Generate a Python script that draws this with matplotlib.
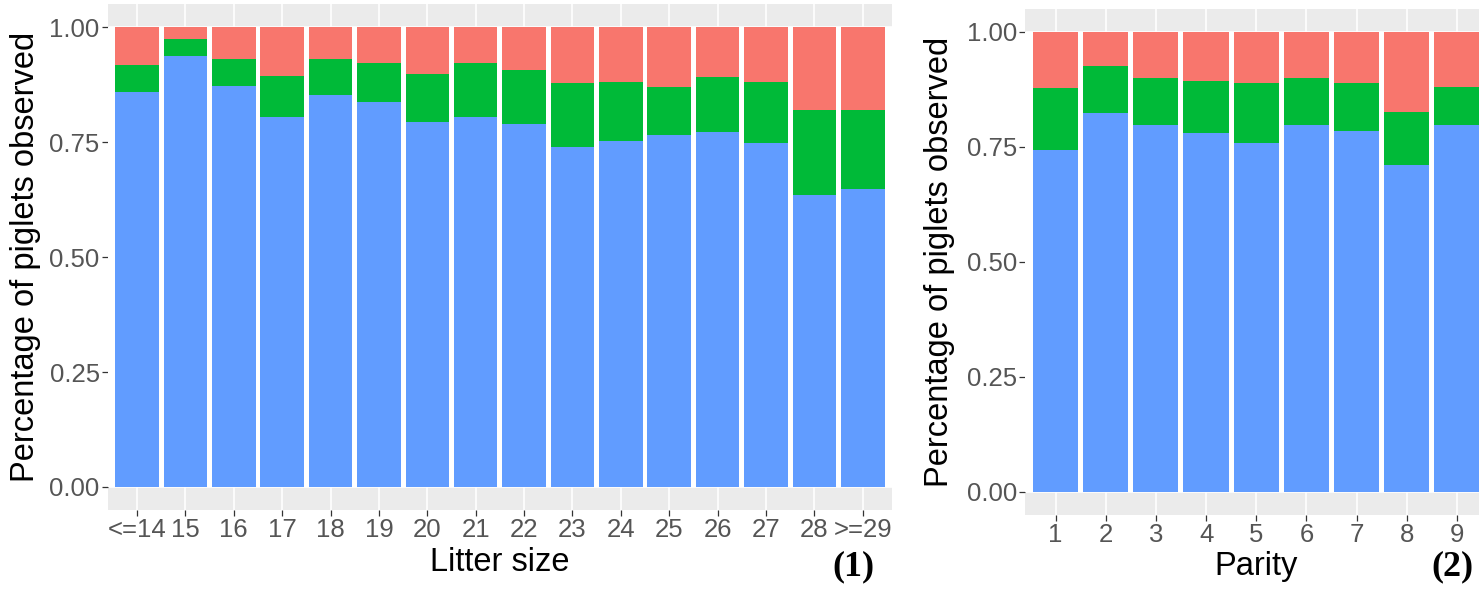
'''
Piglets observed by litter size (1) and parity (2), stacked proportions
'''

import matplotlib.pyplot as plt
import numpy as np

plt.rcParams['font.family'] = ['Liberation Sans', 'DejaVu Sans']

# litter size panel
LITTER_LABELS = ['<=14', '15', '16', '17', '18', '19', '20', '21',
                 '22', '23', '24', '25', '26', '27', '28', '>=29']
LITTER_BLUE = [0.859, 0.938, 0.871, 0.804, 0.853, 0.837, 0.793, 0.804,
               0.790, 0.739, 0.752, 0.765, 0.772, 0.747, 0.636, 0.649]
LITTER_GREEN_TOP = [0.918, 0.975, 0.931, 0.893, 0.931, 0.922, 0.899, 0.922,
                    0.907, 0.878, 0.880, 0.870, 0.891, 0.880, 0.819, 0.819]

# parity panel
PARITY_LABELS = ['1', '2', '3', '4', '5', '6', '7', '8', '9']
PARITY_BLUE = [0.743, 0.824, 0.797, 0.781, 0.759, 0.797, 0.785, 0.710, 0.797]
PARITY_GREEN_TOP = [0.879, 0.926, 0.899, 0.894, 0.888, 0.899, 0.889, 0.826, 0.881]

Y_TICKS = [0.0, 0.25, 0.5, 0.75, 1.0]
Y_TICK_LABELS = ['0.00', '0.25', '0.50', '0.75', '1.00']

BLUE = '#619CFF'
GREEN = '#00BA38'
RED = '#F8766D'
PANEL_BG = '#EBEBEB'
TICK_COLOUR = '#555555'
TICK_SIZE = 18.5
TITLE_SIZE = 23.5
Y_TITLE = 'Percentage of piglets observed'


def draw_panel(ax, labels, blue, green_top, xlabel, ylabel_x):
    x = np.arange(len(labels))
    blue = np.array(blue)
    green_top = np.array(green_top)
    ax.set_facecolor(PANEL_BG)
    ax.axhspan(0, 1, color='white', zorder=1, lw=0)
    ax.bar(x, blue, 0.9, color=BLUE, zorder=2)
    ax.bar(x, green_top - blue, 0.9, bottom=blue, color=GREEN, zorder=2)
    ax.bar(x, 1 - green_top, 0.9, bottom=green_top, color=RED, zorder=2)
    ax.set_xlim(-0.6, len(labels) - 0.4)
    ax.set_ylim(-0.05, 1.05)
    ax.set_xticks(x)
    ax.set_xticklabels(labels)
    ax.set_yticks(Y_TICKS)
    ax.set_yticklabels(Y_TICK_LABELS)
    ax.set_yticks([0.125, 0.375, 0.625, 0.875], minor=True)
    ax.grid(True, which='major', color='white', lw=1.2, zorder=0)
    ax.grid(True, which='minor', axis='y', color='white', lw=0.6, zorder=0)
    ax.set_axisbelow(True)
    for s in ax.spines.values():
        s.set_visible(False)
    ax.tick_params(axis='both', which='major', length=4, width=0.9,
                   color='#333333', labelcolor=TICK_COLOUR,
                   labelsize=TICK_SIZE, pad=2)
    ax.tick_params(axis='both', which='minor', length=0)
    ax.set_xlabel(xlabel, fontsize=TITLE_SIZE)
    ax.xaxis.label.set_va('center')
    ax.xaxis.set_label_coords(0.5, -0.103)
    ax.set_ylabel(Y_TITLE, fontsize=TITLE_SIZE)
    ax.yaxis.label.set_va('center')
    ax.yaxis.set_label_coords(ylabel_x, 0.5)


fig = plt.figure(figsize=(14.79, 5.93), dpi=100)
ax1 = fig.add_axes([0.0730, 0.140, 0.530, 0.853])
ax2 = fig.add_axes([0.6933, 0.132, 0.3122, 0.853])

draw_panel(ax1, LITTER_LABELS, LITTER_BLUE, LITTER_GREEN_TOP, 'Litter size', -0.105)
draw_panel(ax2, PARITY_LABELS, PARITY_BLUE, PARITY_GREEN_TOP, 'Parity', -0.185)

fig.text(853 / 1479, 1 - 567 / 593, '(1)', fontsize=26, fontweight='bold',
         family='Liberation Serif', ha='center', va='center')
fig.text(1452 / 1479, 1 - 567 / 593, '(2)', fontsize=26, fontweight='bold',
         family='Liberation Serif', ha='center', va='center')

fig.savefig('out.png', dpi=100)
